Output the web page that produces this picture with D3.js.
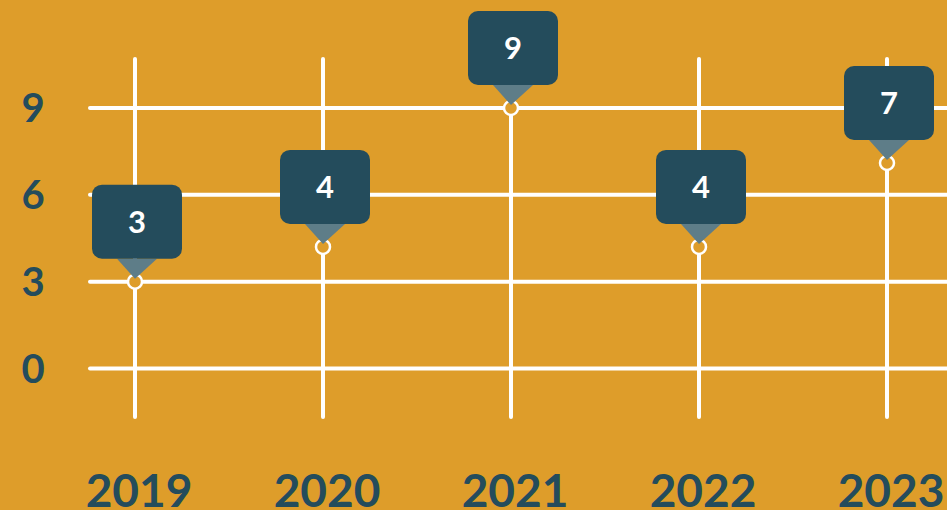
<!DOCTYPE html>
<html>
<head>
<meta charset="utf-8">
<script src="https://cdn.jsdelivr.net/npm/d3@7"></script>
<style>
  html, body { margin: 0; padding: 0; background: #de9d2a; overflow: hidden; }
  svg { display: block; font-family: Lato, "Open Sans", sans-serif; }
</style>
</head>
<body>
<script>
const WIDTH = 947;
const HEIGHT = 510;
const BG = "#de9d2a";
const DARK = "#244c5c";
const POINTER = "#5e7d88";

const years = ["2019", "2020", "2021", "2022", "2023"];
const values = [3, 4.2, 9, 4.2, 7.1];
const yTicks = [0, 3, 6, 9];

const BOX_W = 90;
const BOX_H = 74;
const GAP = 23; // box bottom to point centre
const PTR_W = 40;

const svg = d3.select("body").append("svg")
  .attr("width", WIDTH)
  .attr("height", HEIGHT);

svg.append("rect").attr("width", WIDTH).attr("height", HEIGHT).attr("fill", BG);

const x = d3.scalePoint().domain(years).range([135, 887]);
const y = d3.scaleLinear().domain([0, 9]).range([368.5, 108]);

const grid = svg.append("g")
  .attr("stroke", "#fff")
  .attr("stroke-width", 4)
  .attr("stroke-linecap", "round");

grid.selectAll(".h").data(yTicks).join("line")
  .attr("x1", 90).attr("x2", 960)
  .attr("y1", (d) => y(d)).attr("y2", (d) => y(d));

grid.selectAll(".v").data(years).join("line")
  .attr("x1", (d) => x(d)).attr("x2", (d) => x(d))
  .attr("y1", 59).attr("y2", 417);

// y tick labels
svg.append("g").selectAll("text").data(yTicks).join("text")
  .attr("x", 33)
  .attr("y", (d) => y(d) + 14)
  .attr("text-anchor", "middle")
  .attr("font-size", 40)
  .attr("font-weight", 700)
  .attr("fill", DARK)
  .text((d) => d);

// year labels (cut by the bottom edge, as in the original)
svg.append("g").selectAll("text").data(years).join("text")
  .attr("x", (d) => x(d) + 4)
  .attr("y", 507)
  .attr("text-anchor", "middle")
  .attr("font-size", 46)
  .attr("font-weight", 700)
  .attr("fill", DARK)
  .text((d) => d);

const points = years.map((yr, i) => ({ year: yr, value: values[i] }));

svg.append("g").selectAll("circle").data(points).join("circle")
  .attr("cx", (d) => x(d.year))
  .attr("cy", (d) => y(d.value))
  .attr("r", 7)
  .attr("fill", BG)
  .attr("stroke", "#fff")
  .attr("stroke-width", 2.5);

const tip = svg.append("g").selectAll("g").data(points).join("g")
  .attr("transform", (d) => `translate(${x(d.year) + 2},${y(d.value)})`);

tip.append("path")
  .attr("d", `M${-PTR_W / 2},${-GAP} L${PTR_W / 2},${-GAP} L-2,${-GAP + 20} Z`)
  .attr("fill", POINTER);

tip.append("rect")
  .attr("x", -BOX_W / 2)
  .attr("y", -GAP - BOX_H)
  .attr("width", BOX_W)
  .attr("height", BOX_H)
  .attr("rx", 10)
  .attr("fill", DARK);

tip.append("text")
  .attr("y", -GAP - BOX_H / 2 + 11)
  .attr("text-anchor", "middle")
  .attr("font-size", 31)
  .attr("font-weight", 700)
  .attr("fill", "#fff")
  .text((d) => d3.format(".0f")(d.value));
</script>
</body>
</html>
